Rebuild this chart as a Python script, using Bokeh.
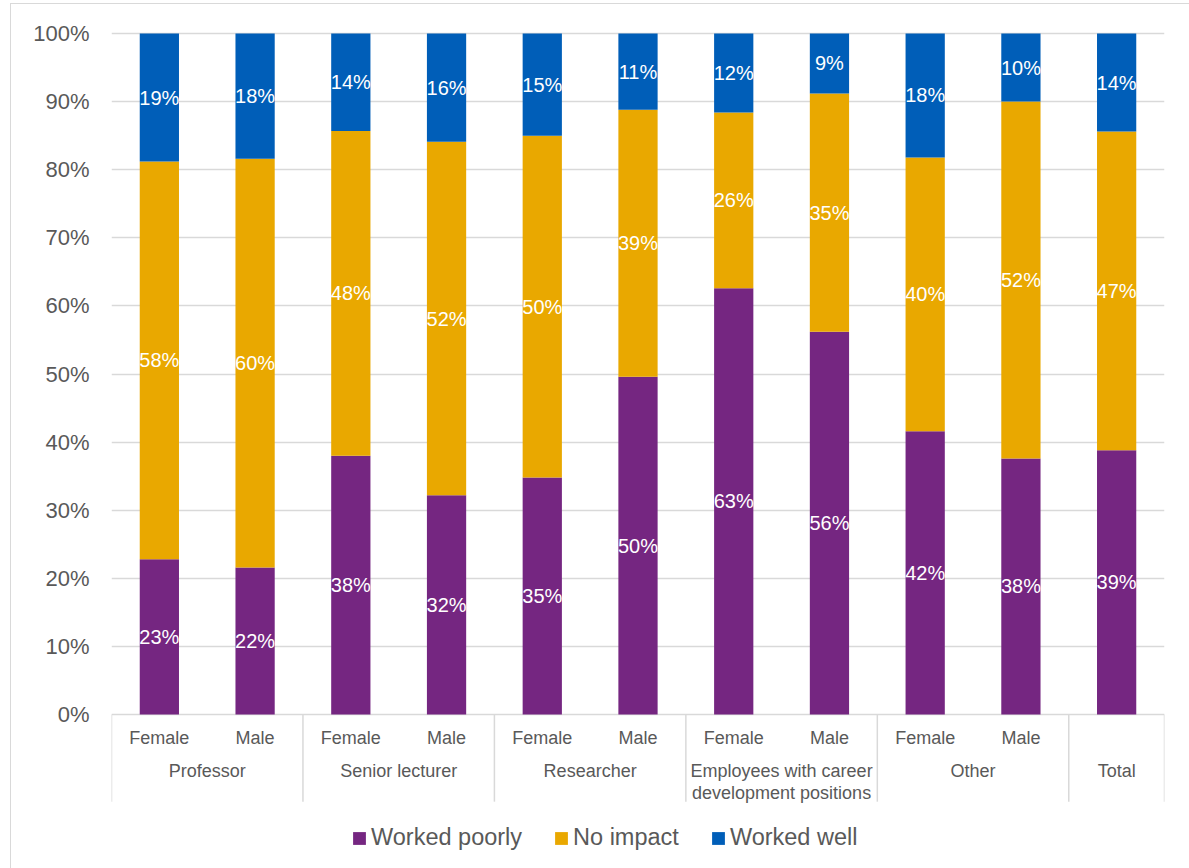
from bokeh.plotting import figure
from bokeh.models import (ColumnDataSource, Range1d, FixedTicker, Legend, LegendItem,
                          PrintfTickFormatter)
from bokeh.embed import file_html
from bokeh.resources import INLINE
from bokeh.core.properties import value

# ---- data ----
bar_groups = ["Professor", "Professor", "Senior lecturer", "Senior lecturer",
              "Researcher", "Researcher",
              "Employees with career\ndevelopment positions", "Employees with career\ndevelopment positions",
              "Other", "Other", "Total"]
bar_genders = ["Female", "Male", "Female", "Male", "Female", "Male",
               "Female", "Male", "Female", "Male", ""]
worked_poorly = [22.8, 21.6, 38.0, 32.2, 34.8, 49.6, 62.6, 56.2, 41.6, 37.6, 38.8]
no_impact = [58.4, 60.0, 47.7, 51.9, 50.2, 39.2, 25.8, 35.0, 40.2, 52.4, 46.8]
worked_well = [18.8, 18.4, 14.3, 15.9, 15.0, 11.2, 11.6, 8.8, 18.2, 10.0, 14.4]
series_names = ["Worked poorly", "No impact", "Worked well"]
series_colors = ["#752681", "#E9A800", "#005EB8"]
y_ticks = [0, 10, 20, 30, 40, 50, 60, 70, 80, 90, 100]

FONT = "Liberation Sans"
GRAY = "#595959"
LINE = "#D9D9D9"

n = len(bar_genders)
xs = list(range(n))
src = ColumnDataSource(dict(x=xs, wp=worked_poorly, ni=no_impact, ww=worked_well))

sep_bottom = -12.8
p = figure(width=1179, height=865, output_backend="svg", toolbar_location=None,
           x_range=Range1d(-0.5, n - 0.5), y_range=Range1d(-22.76, 101.03),
           min_border_left=100, min_border_right=26, min_border_top=22, min_border_bottom=0)
p.margin = (3, 0, 0, 10)
p.styles = {"border-left": "1px solid #D9D9D9", "border-top": "1px solid #D9D9D9"}
p.outline_line_color = None
p.xaxis.visible = False
p.xgrid.visible = False
p.ygrid.ticker = FixedTicker(ticks=y_ticks)
p.ygrid.bounds = (0, 100)
p.ygrid.grid_line_color = LINE
p.ygrid.grid_line_width = 1.5

yax = p.yaxis[0]
yax.ticker = FixedTicker(ticks=y_ticks)
yax.formatter = PrintfTickFormatter(format="%d%%")
yax.axis_line_color = None
yax.major_tick_line_color = None
yax.minor_tick_line_color = None
yax.major_tick_out = 0
yax.major_label_standoff = 22
yax.major_label_text_font = FONT
yax.major_label_text_font_size = "22px"
yax.major_label_text_color = GRAY

rs = p.vbar_stack(["wp", "ni", "ww"], x="x", width=0.41, source=src,
                  color=series_colors, line_color=None)

# data labels
lx, ly, lt = [], [], []
for i in range(n):
    base = 0.0
    for vals in (worked_poorly, no_impact, worked_well):
        v = vals[i]
        lx.append(i)
        ly.append(base + v / 2)
        lt.append(f"{round(v)}%")
        base += v
p.text(x=lx, y=ly, text=lt, text_color="white", text_font=value(FONT),
       text_font_size="20px", text_align="center", text_baseline="middle")

# category axis: subgroup labels
p.text(x=xs, y=[-3.4] * n, text=bar_genders, text_color=GRAY, text_font=value(FONT),
       text_font_size="18px", text_align="center", text_baseline="middle")

# group labels and separators
groups = []
for i, g in enumerate(bar_groups):
    if not groups or groups[-1][0] != g:
        groups.append([g, i, i])
    else:
        groups[-1][2] = i
gx = [(a + b) / 2 for _, a, b in groups]
gt = [g for g, _, _ in groups]
p.text(x=gx, y=[-6.8] * len(gx), text=gt, text_color=GRAY, text_font=value(FONT),
       text_font_size="18px", text_align="center", text_baseline="top",
       text_line_height=1.12)
sep_x = [a - 0.5 for _, a, _ in groups] + [groups[-1][2] + 0.5]
p.segment(x0=sep_x, x1=sep_x, y0=[0] * len(sep_x), y1=[sep_bottom] * len(sep_x),
          line_color=LINE, line_width=1.5)

legend = Legend(items=[LegendItem(label=nm, renderers=[r]) for nm, r in zip(series_names, rs)],
                orientation="horizontal", location=(240, 18),
                glyph_width=16, glyph_height=16, label_standoff=4, spacing=31,
                label_text_font=FONT, label_text_font_size="23.5px", label_text_color=GRAY,
                border_line_color=None, background_fill_alpha=0, padding=0, margin=0)
p.add_layout(legend, "center")

open("out.html", "w").write(file_html(p, INLINE))
